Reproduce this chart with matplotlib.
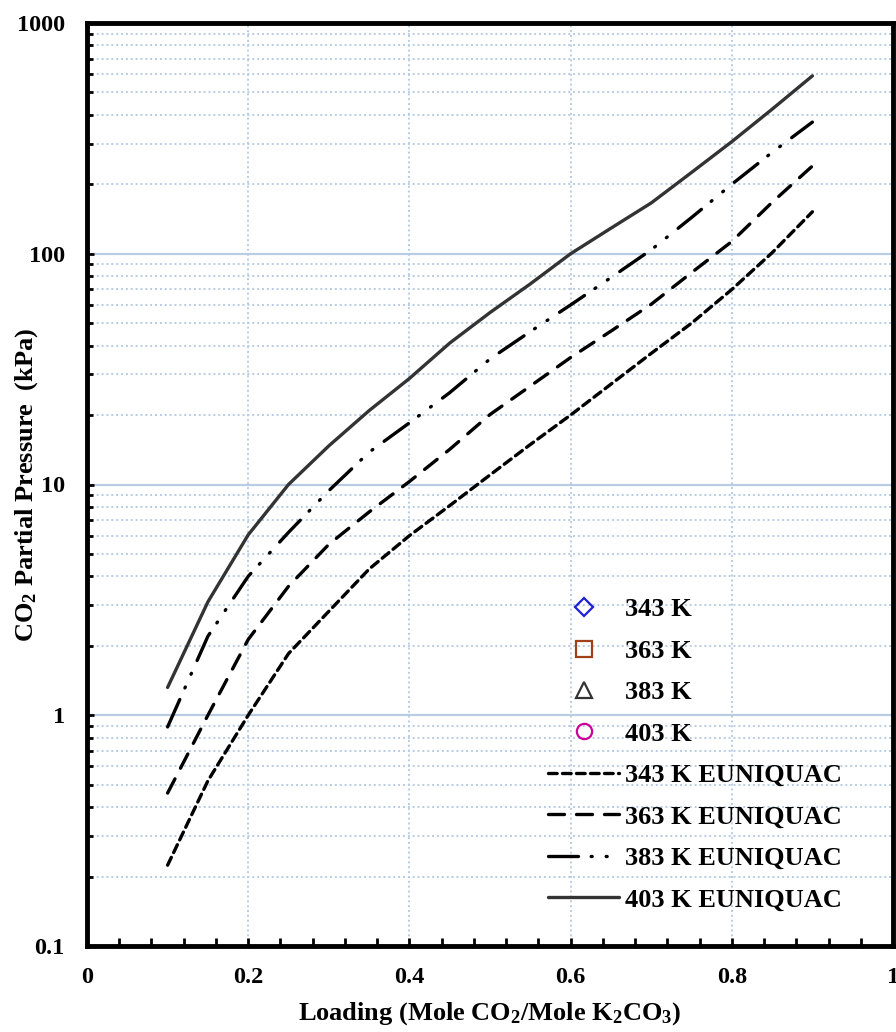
import matplotlib.pyplot as plt
from matplotlib.ticker import LogLocator, NullFormatter, FixedFormatter, FixedLocator

plt.rcParams['font.family'] = ['Liberation Serif', 'DejaVu Serif']
plt.rcParams['font.weight'] = 'bold'
plt.rcParams['axes.labelweight'] = 'bold'
plt.rcParams['mathtext.fontset'] = 'custom'
plt.rcParams['mathtext.rm'] = 'Liberation Serif:bold'
plt.rcParams['mathtext.bf'] = 'Liberation Serif:bold'
plt.rcParams['mathtext.default'] = 'bf'

# Loading (mole CO2 / mole K2CO3)
loading = [0.1, 0.15, 0.2, 0.25, 0.3, 0.35, 0.4, 0.45, 0.5,
           0.55, 0.6, 0.65, 0.7, 0.75, 0.8, 0.85, 0.9]

# EUNIQUAC model curves, CO2 partial pressure (kPa)
p_343 = [0.224, 0.52, 1.0, 1.85, 2.82, 4.3, 6.0, 8.1, 11.0,
         14.9, 20, 27.2, 37, 50, 70, 101, 152]
p_363 = [0.46, 1.0, 2.13, 3.62, 5.5, 7.6, 10.3, 14.2, 20.1,
         26.7, 35.5, 46.2, 60.4, 82.8, 113, 167, 240]
p_383 = [0.89, 2.2, 4.0, 6.2, 9.4, 13.8, 18.5, 25, 35,
         46, 60, 78.8, 104, 143.5, 200, 275, 372]
p_403 = [1.32, 3.1, 6.05, 10.0, 14.7, 20.9, 28.8, 41, 55.6,
         74, 100, 129, 166, 225, 306, 423, 590]

# experimental series (no points visible in the chart, legend only)
exp_labels = ['343 K', '363 K', '383 K', '403 K']
exp_x = [[], [], [], []]
exp_y = [[], [], [], []]

x_ticks = [0, 0.2, 0.4, 0.6, 0.8, 1]
x_labels = ['0', '0.2', '0.4', '0.6', '0.8', '1']
y_ticks = [0.1, 1, 10, 100, 1000]
y_labels = ['0.1', '1', '10', '100', '1000']

fig = plt.figure(figsize=(8.96, 10.32), dpi=100)
ax = fig.add_axes([87/896, 1 - 946/1032, 806/896, 923/1032])

grid_c = '#b8cce4'

# experimental markers
ax.plot(exp_x[0], exp_y[0], 'D', ms=9, mfc='none', mec='#1f1fd6', mew=1.6, label=exp_labels[0])
ax.plot(exp_x[1], exp_y[1], 's', ms=11, mfc='none', mec='#a0401a', mew=1.6, label=exp_labels[1])
ax.plot(exp_x[2], exp_y[2], '^', ms=11, mfc='none', mec='#333333', mew=1.6, label=exp_labels[2])
ax.plot(exp_x[3], exp_y[3], 'o', ms=11, mfc='none', mec='#cc0099', mew=1.6, label=exp_labels[3])

lw = 2.4
ax.plot(loading, p_343, color='black', lw=lw, dashes=(2.6, 1.6),
        dash_capstyle='round', label='343 K EUNIQUAC')
ax.plot(loading, p_363, color='black', lw=lw, dashes=(4.8, 3.6),
        dash_capstyle='round', label='363 K EUNIQUAC')
ax.plot(loading, p_383, color='black', lw=lw, dashes=(9, 3.8, 0.3, 4.2, 0.3, 4.2),
        dash_capstyle='round', label='383 K EUNIQUAC')
ax.plot(loading, p_403, color='#333333', lw=lw, solid_capstyle='round',
        label='403 K EUNIQUAC')

ax.set_yscale('log')
ax.set_xlim(0, 1)
ax.set_ylim(0.1, 1000)

# ticks
ax.yaxis.set_major_locator(FixedLocator(y_ticks))
ax.yaxis.set_major_formatter(FixedFormatter(y_labels))
ax.yaxis.set_minor_locator(LogLocator(base=10, subs=range(2, 10)))
ax.yaxis.set_minor_formatter(NullFormatter())
ax.xaxis.set_major_locator(FixedLocator(x_ticks))
ax.xaxis.set_major_formatter(FixedFormatter(x_labels))
ax.xaxis.set_minor_locator(FixedLocator([i * 0.04 for i in range(26)]))

# grids
ax.grid(True, which='major', axis='y', color=grid_c, lw=1.6, ls='-')
ax.grid(True, which='minor', axis='y', color=grid_c, lw=1.4, ls=(0, (1, 1.5)))
ax.grid(True, which='major', axis='x', color=grid_c, lw=1.4, ls=(0, (1, 1.5)))
ax.set_axisbelow(True)

for s in ax.spines.values():
    s.set_linewidth(3.5)

ax.tick_params(axis='both', which='both', direction='in', width=2, labelsize=17.5)
ax.tick_params(axis='y', which='major', length=5, pad=16)
ax.tick_params(axis='y', which='minor', length=4)
ax.tick_params(axis='x', which='both', length=6, pad=15)

ax.set_xlabel('Loading (Mole CO$_2$/Mole K$_2$CO$_3$)', fontsize=19)
ax.set_ylabel('CO$_2$ Partial Pressure  (kPa)', fontsize=19)
ax.xaxis.set_label_coords(0.5, (946 - 1000) / 923)
ax.yaxis.set_label_coords((40 - 87) / 806, 0.5)

ax.legend(loc='upper left', bbox_to_anchor=((548 - 87) / 806, (946 - 598) / 923),
          frameon=False, handlelength=2.7, handletextpad=0.2,
          labelspacing=0.68, borderpad=0, borderaxespad=0,
          prop={'weight': 'bold', 'size': 19})

fig.savefig('out.png', dpi=100)
